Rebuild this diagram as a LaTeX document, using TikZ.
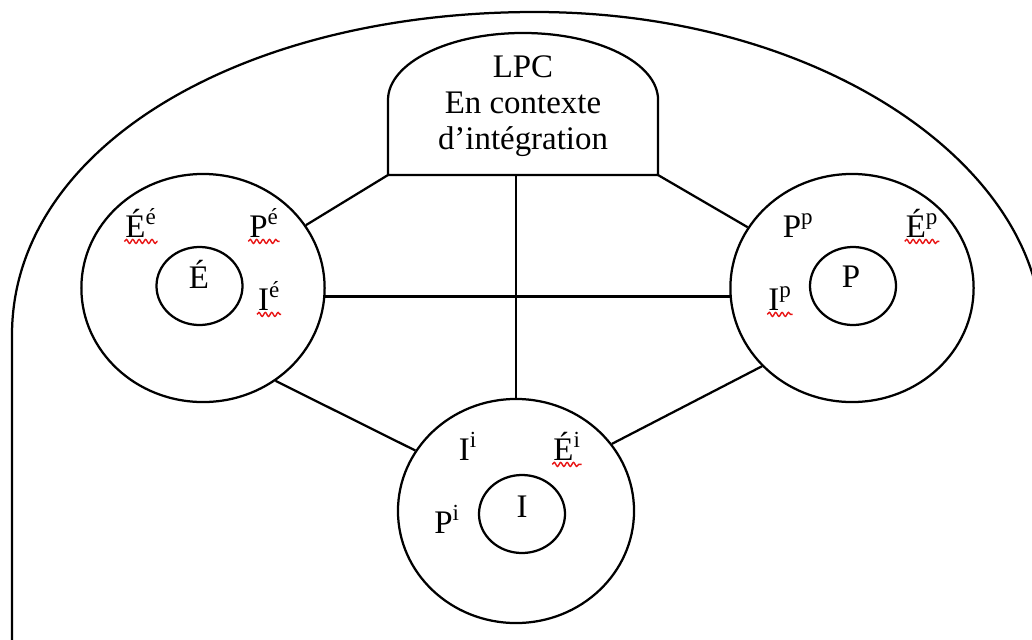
\documentclass[tikz,border=0pt]{standalone}
\usepackage{fontspec}
\setmainfont{Liberation Serif}
\usepackage{tikz}
\usetikzlibrary{shapes,decorations.pathmorphing,calc}
\definecolor{rougevague}{RGB}{232,20,20}

\begin{document}
\begin{tikzpicture}[x=0.025cm, y=-0.025cm, line width=1.6pt,
    grand/.style={ellipse, draw, inner sep=0pt, minimum width=6.08cm, minimum height=5.7cm},
    petit/.style={ellipse, draw, inner sep=0pt, minimum width=2.15cm, minimum height=1.95cm},
    lettre/.style={inner sep=0pt, anchor=base, font=\fontsize{23.4}{25.6}\selectfont},
    vague/.style={draw=rougevague, line width=1pt, decorate,
                  decoration={snake, amplitude=0.5mm, segment length=1.6mm}}]
    \useasboundingbox (0,0) rectangle (1032,639);
    \clip (0,0) rectangle (1032,639);

    % cadre exterieur
    \draw (12,660) -- (12,335)
          .. controls (12,148) and (240,12) .. (535,12)
          .. controls (820,12) and (1042,165) .. (1042,335) -- (1042,660);

    % LPC
    \coordinate (lpcSO) at (388,175);
    \coordinate (lpcSE) at (658,175);
    \draw (lpcSO) -- (388,100)
          arc[start angle=180, end angle=0, x radius=3.375cm, y radius=1.675cm]
          -- (lpcSE) -- cycle;
    \node[align=center, inner sep=0pt, font=\fontsize{23.4}{25.6}\selectfont] (lpc)
          at (523,106) {LPC\\En contexte\\d’intégration};

    % cercles
    \node[grand] (gauche) at (203,288) {};
    \node[grand] (droite) at (852,288) {};
    \node[grand, minimum width=5.9cm, minimum height=5.6cm] (bas) at (516,511) {};
    \node[petit] (gaucheint) at (199.5,286) {};
    \node[petit] (droiteint) at (853,286) {};
    \node[petit] (basint) at (522,514) {};

    % lettres
    \node[lettre] (Ee) at (141,237) {É\textsuperscript{é}};
    \node[lettre] (Pe) at (264,237) {P\textsuperscript{é}};
    \node[lettre] (Eint) at (199,288) {É};
    \node[lettre] (Ie) at (269,310) {I\textsuperscript{é}};
    \node[lettre] (Pp) at (798,237) {P\textsuperscript{p}};
    \node[lettre] (Ep) at (922,237) {É\textsuperscript{p}};
    \node[lettre] (Pint) at (851,287) {P};
    \node[lettre] (Ip) at (780,310) {I\textsuperscript{p}};
    \node[lettre] (Ii) at (468,460) {I\textsuperscript{i}};
    \node[lettre] (Ei) at (567,460) {É\textsuperscript{i}};
    \node[lettre] (Iint) at (522,517) {I};
    \node[lettre] (Pi) at (447,533) {P\textsuperscript{i}};

    \foreach \m in {Ee,Pe,Ie,Ep,Ip,Ei}
        \draw[vague] ([yshift=-1.1mm]\m.base west) -- ([yshift=-1.1mm]\m.base east);

    % liaisons
    \draw (lpcSO) -- (gauche);
    \draw (lpcSE) -- (droite);
    \draw (gauche.-4) -- (droite.184);
    \draw (bas |- lpcSO) -- (bas);
    \draw (gauche.-52) -- (bas.149);
    \draw (droite.-139) -- (bas.35);
\end{tikzpicture}
\end{document}
